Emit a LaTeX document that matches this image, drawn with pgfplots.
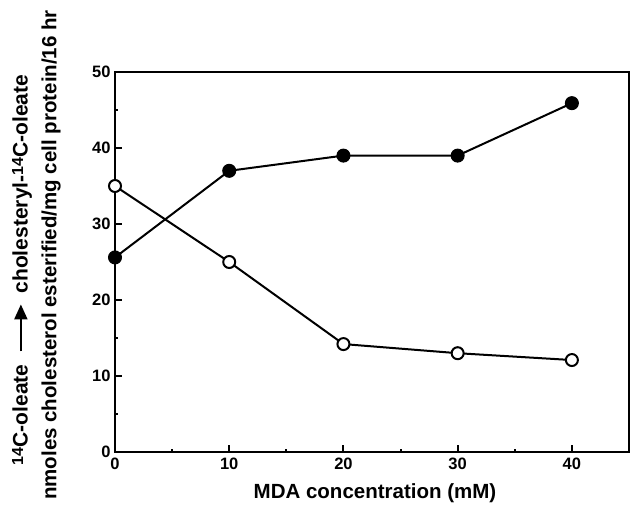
\documentclass[border=0pt]{standalone}
\usepackage{pgfplots}
\pgfplotsset{compat=1.18}
\usepackage{fontspec}
\setmainfont{Liberation Sans}
\usetikzlibrary{arrows.meta}
\newcommand{\bigarrow}{\tikz[baseline=-0.6ex]\draw[line width=2.2pt,-{Triangle[length=15pt,width=13pt]}] (0,0)--(47pt,0);}
\newcommand{\isot}{\raisebox{0.4ex}{\fontsize{16}{16}\selectfont 14}}
\begin{document}
\begin{tikzpicture}
\useasboundingbox (-115pt,-55pt) rectangle (515pt,452pt);
\begin{axis}[
  scale only axis,
  width=514pt, height=380pt,
  at={(0pt,0pt)}, anchor=south west,
  xmin=0, xmax=45, ymin=0, ymax=50,
  xtick={0,10,20,30,40}, ytick={0,10,20,30,40,50},
  minor xtick={5,15,25,35}, minor ytick={5,15,25,35,45},
  xtick pos=bottom, ytick pos=left,
  tick align=inside,
  major tick length=7pt, minor tick length=3pt,
  axis line style={line width=2.4pt},
  every tick/.style={line width=2pt, black},
  /pgf/number format/assume math mode=true,
  tick label style={font=\fontsize{16.5}{16.5}\selectfont\bfseries},
  xticklabel style={yshift=-2pt},
  yticklabel style={xshift=-1pt},
  clip=false,
]
\addplot[line width=2pt, black, mark=*, mark size=6.5pt, mark options={fill=black, line width=1pt}]
  coordinates {(0,25.6) (10,37) (20,39) (30,39) (40,45.9)};
\addplot[line width=2pt, black, mark=*, mark size=6pt, mark options={fill=white, line width=2pt}]
  coordinates {(0,35) (10,25) (20,14.2) (30,13) (40,12.1)};
\end{axis}
\node[font=\fontsize{20.5}{20.5}\selectfont\bfseries] at (260pt,-41pt) {MDA concentration (mM)};
\node[rotate=90, font=\fontsize{21}{21}\selectfont\bfseries] at (-93pt,182pt)
  {\isot C-oleate\hspace{12pt}\bigarrow\hspace{10pt}cholesteryl-\isot C-oleate};
\node[rotate=90, font=\fontsize{20.5}{20.5}\selectfont\bfseries] at (-64pt,197pt)
  {nmoles cholesterol esterified/mg cell protein/16 hr};
\end{tikzpicture}
\end{document}
